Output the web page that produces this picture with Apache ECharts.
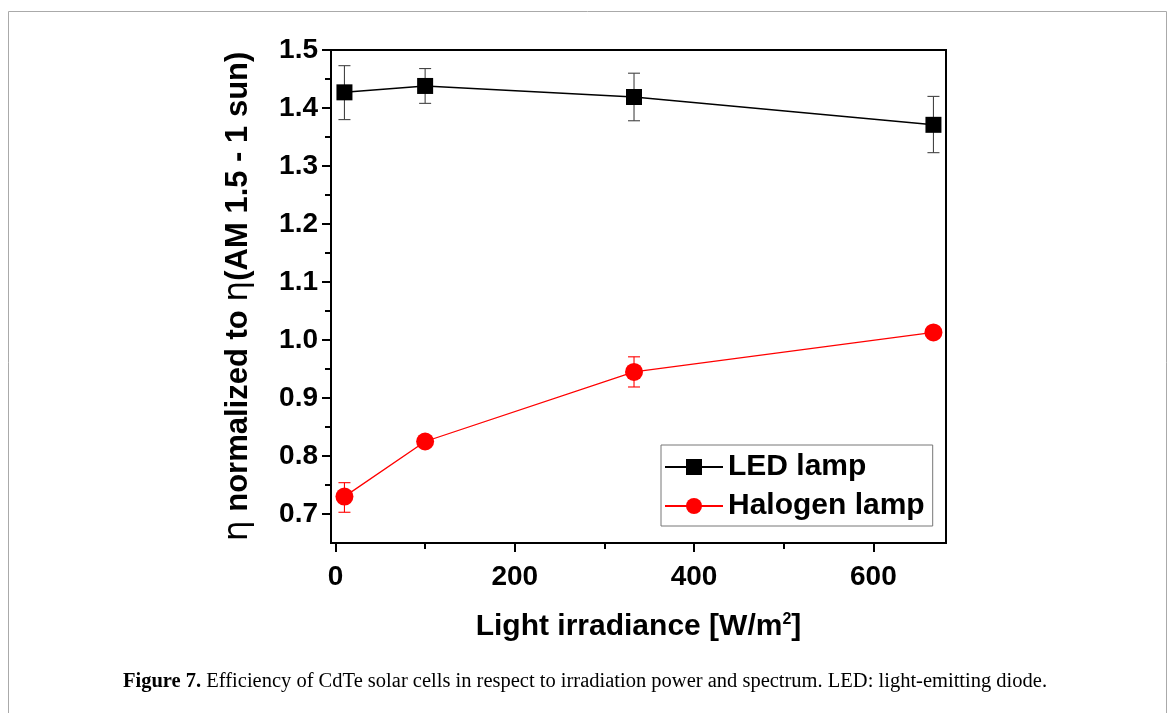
<!DOCTYPE html>
<html>
<head>
<meta charset="utf-8">
<script src="https://cdn.jsdelivr.net/npm/echarts@6/dist/echarts.min.js"></script>
<style>
html,body{margin:0;padding:0;background:#fff;}
#chart{width:1170px;height:713px;}
</style>
</head>
<body>
<div id="chart"></div>
<script>
// ---- data ----
const irradiance   = [10, 100, 333, 667];
const ledEff       = [1.427, 1.438, 1.419, 1.371];
const ledErrLow    = [1.380, 1.408, 1.378, 1.323];
const ledErrHigh   = [1.473, 1.468, 1.460, 1.420];
const halEff       = [0.730, 0.825, 0.945, 1.013];
const halErrLow    = [0.703, 0.818, 0.919, 1.006];
const halErrHigh   = [0.754, 0.832, 0.971, 1.020];
const xMajorTicks  = [0, 200, 400, 600];
const xMinorTicks  = [100, 300, 500];
const yMajorTicks  = [0.7, 0.8, 0.9, 1.0, 1.1, 1.2, 1.3, 1.4, 1.5];
const yMinorTicks  = [0.75, 0.85, 0.95, 1.05, 1.15, 1.25, 1.35, 1.45];
const seriesNames  = ['LED lamp', 'Halogen lamp'];
const caption = 'Efficiency of CdTe solar cells in respect to irradiation power and spectrum. LED: light-emitting diode.';

const SANS = 'Liberation Sans, Arial, sans-serif';
const SERIF = 'Liberation Serif, Times New Roman, serif';

function zip(xs, a, b) { return xs.map((x, i) => b ? [x, a[i], b[i]] : [x, a[i]]); }

function errRender(color) {
  return function (params, api) {
    const x = api.value(0), lo = api.value(1), hi = api.value(2);
    const pLo = api.coord([x, lo]), pHi = api.coord([x, hi]);
    const cap = 6;
    const st = { stroke: color, lineWidth: 1.1 };
    return {
      type: 'group',
      children: [
        { type: 'line', shape: { x1: pLo[0], y1: pLo[1], x2: pHi[0], y2: pHi[1] }, style: st },
        { type: 'line', shape: { x1: pHi[0] - cap, y1: pHi[1], x2: pHi[0] + cap, y2: pHi[1] }, style: st },
        { type: 'line', shape: { x1: pLo[0] - cap, y1: pLo[1], x2: pLo[0] + cap, y2: pLo[1] }, style: st }
      ]
    };
  };
}

const chart = echarts.init(document.getElementById('chart'), null, { renderer: 'canvas' });
const xMin = -5, xMax = 681, yMin = 0.65, yMax = 1.5;

chart.setOption({
  animation: false,
  backgroundColor: '#fff',
  grid: { left: 331, top: 50, right: 224, bottom: 170, show: true, borderColor: '#000', borderWidth: 2, backgroundColor: 'transparent' },
  legend: {
    data: seriesNames,
    orient: 'vertical',
    left: 661, top: 445,
    itemWidth: 58, itemHeight: 20, itemGap: 9,
    padding: [7, 8, 5, 3],
    borderColor: '#777', borderWidth: 1, backgroundColor: '#fff',
    textStyle: { fontFamily: SANS, fontWeight: 'bold', fontSize: 30, color: '#000' }
  },
  xAxis: [
    {
      type: 'value', min: xMin, max: xMax, position: 'bottom',
      name: 'Light irradiance [W/m{sup|2}]',
      nameLocation: 'middle', nameGap: 69,
      nameTextStyle: {
        fontFamily: SANS, fontWeight: 'bold', fontSize: 30, color: '#000',
        rich: { sup: { fontFamily: SANS, fontWeight: 'bold', fontSize: 16, verticalAlign: 'top', color: '#000' } }
      },
      axisLine: { show: true, onZero: false, lineStyle: { color: '#000', width: 2 } },
      axisTick: { show: true, customValues: xMajorTicks, length: 9, lineStyle: { color: '#000', width: 2 } },
      axisLabel: { show: true, customValues: xMajorTicks, margin: 20, fontFamily: SANS, fontWeight: 'bold', fontSize: 28, color: '#000' },
      splitLine: { show: false }
    },
    {
      type: 'value', min: xMin, max: xMax, position: 'bottom',
      axisLine: { show: false, onZero: false },
      axisTick: { show: true, customValues: xMinorTicks, length: 6, lineStyle: { color: '#000', width: 2 } },
      axisLabel: { show: false },
      splitLine: { show: false }
    }
  ],
  yAxis: [
    {
      type: 'value', min: yMin, max: yMax, position: 'left',
      name: '{eta|η} normalized to {eta|η}(AM 1.5 - 1 sun)',
      nameLocation: 'middle', nameGap: 76, nameRotate: 90,
      nameTextStyle: {
        fontFamily: SANS, fontWeight: 'bold', fontSize: 31, color: '#000',
        rich: { eta: { fontFamily: 'DejaVu Sans, sans-serif', fontWeight: 'normal', fontSize: 33, color: '#000' } }
      },
      axisLine: { show: true, onZero: false, lineStyle: { color: '#000', width: 2 } },
      axisTick: { show: true, customValues: yMajorTicks, length: 9, lineStyle: { color: '#000', width: 2 } },
      axisLabel: { show: true, customValues: yMajorTicks, margin: 13, fontFamily: SANS, fontWeight: 'bold', fontSize: 28, color: '#000',
        formatter: v => Number(v).toFixed(1) },
      splitLine: { show: false }
    },
    {
      type: 'value', min: yMin, max: yMax, position: 'left',
      axisLine: { show: false, onZero: false },
      axisTick: { show: true, customValues: yMinorTicks, length: 6, lineStyle: { color: '#000', width: 2 } },
      axisLabel: { show: false },
      splitLine: { show: false }
    }
  ],
  series: [
    {
      type: 'custom', name: 'LED err', xAxisIndex: 0, yAxisIndex: 0, z: 2,
      renderItem: errRender('#444'),
      encode: { x: 0, y: [1, 2] },
      data: zip(irradiance, ledErrLow, ledErrHigh)
    },
    {
      type: 'custom', name: 'Halogen err', xAxisIndex: 0, yAxisIndex: 0, z: 2,
      renderItem: errRender('#ff0000'),
      encode: { x: 0, y: [1, 2] },
      data: zip(irradiance, halErrLow, halErrHigh)
    },
    {
      type: 'line', name: seriesNames[0], xAxisIndex: 0, yAxisIndex: 0, z: 3,
      data: zip(irradiance, ledEff),
      symbol: 'rect', symbolSize: 16,
      lineStyle: { color: '#000', width: 1.5 },
      itemStyle: { color: '#000' }
    },
    {
      type: 'line', name: seriesNames[1], xAxisIndex: 0, yAxisIndex: 0, z: 3,
      data: zip(irradiance, halEff),
      symbol: 'circle', symbolSize: 18,
      lineStyle: { color: '#ff0000', width: 1.3 },
      itemStyle: { color: '#ff0000' }
    }
  ],
  graphic: [
    {
      type: 'rect', silent: true, z: -1,
      shape: { x: 8.5, y: 11.5, width: 1158, height: 730 },
      style: { fill: 'none', stroke: '#aaa', lineWidth: 1 }
    },
    {
      type: 'text', left: 'center', top: 671,
      style: {
        text: '{b|Figure 7.} ' + caption,
        fontFamily: SERIF, fontSize: 20.5, fill: '#000',
        rich: { b: { fontFamily: SERIF, fontSize: 20.5, fontWeight: 'bold', fill: '#000' } }
      }
    }
  ]
});
</script>
</body>
</html>
